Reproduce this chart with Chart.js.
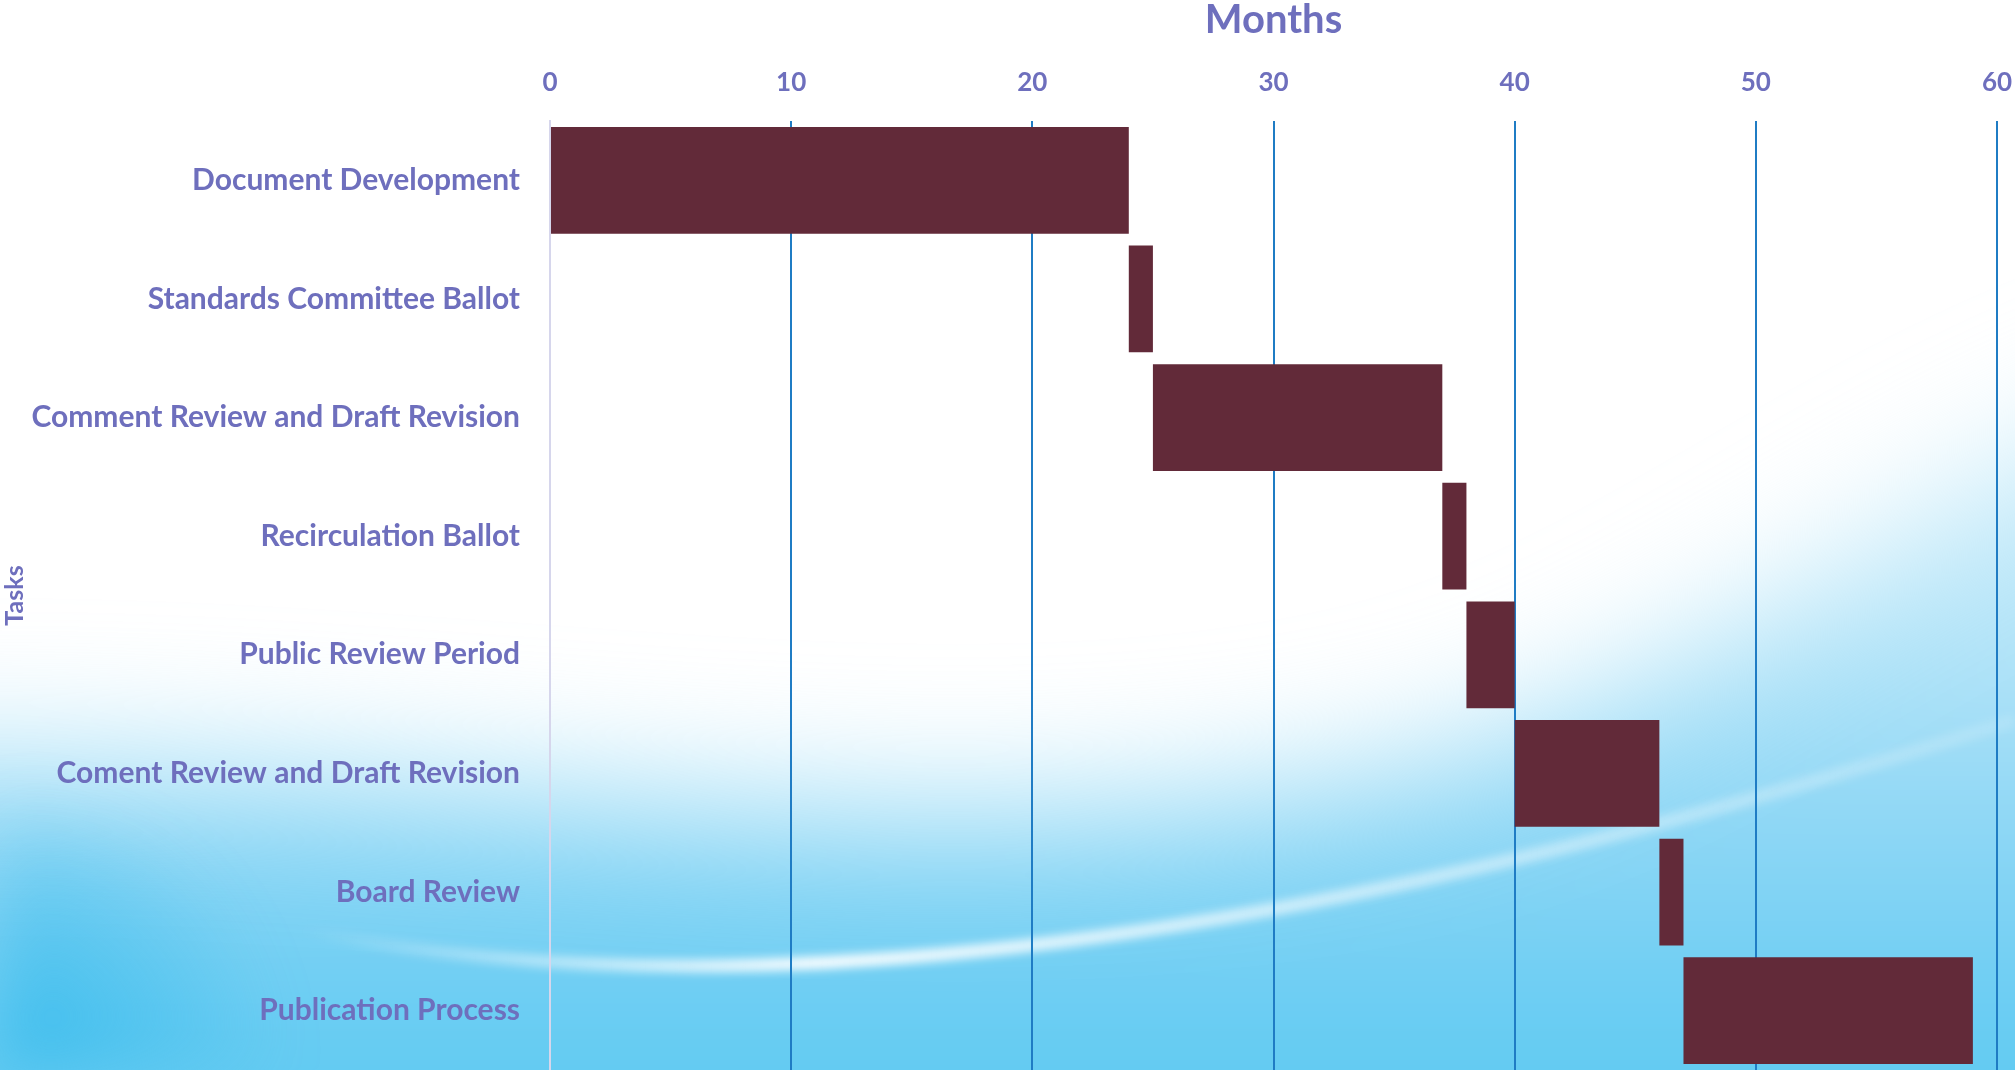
<!DOCTYPE html>
<html>
<head>
<meta charset="utf-8">
<script src="https://cdn.jsdelivr.net/npm/chart.js@4.4.1/dist/chart.umd.min.js"></script>
<style>
  html, body { margin: 0; padding: 0; background: #fff; }
  #wrap { width: 2015px; height: 1070px; position: relative; }
</style>
</head>
<body>
<div id="wrap"><canvas id="ganttChart"></canvas></div>
<script>
const tasks = [
    'Document Development',
    'Standards Committee Ballot',
    'Comment Review and Draft Revision',
    'Recirculation Ballot',
    'Public Review Period',
    'Coment Review and Draft Revision',
    'Board Review',
    'Publication Process'
];
const startMonths = [0, 24, 25, 37, 38, 40, 46, 47];
const endMonths = [24, 25, 37, 38, 40, 46, 47, 59];
const monthTicks = [0, 10, 20, 30, 40, 50, 60];

const textColor = '#6e6fbd';
const gridBlue = '#1f7cc4';
const lavender = '#d6d6ec';

// slide-style background: white top, sky blue bottom with a light swoosh
const backgroundPlugin = {
    id: 'slideBackground',
    beforeDraw(chart) {
        const ctx = chart.ctx;
        const w = chart.width, h = chart.height;
        ctx.save();
        ctx.fillStyle = '#ffffff';
        ctx.fillRect(0, 0, w, h);

        // blue lower region, soft upper edge
        ctx.filter = 'blur(70px)';
        const g = ctx.createLinearGradient(0, 600, 0, h);
        g.addColorStop(0, 'rgba(190,232,249,1)');
        g.addColorStop(0.5, 'rgba(140,214,245,1)');
        g.addColorStop(1, 'rgba(95,202,242,1)');
        ctx.fillStyle = g;
        ctx.beginPath();
        ctx.moveTo(-200, 770);
        ctx.bezierCurveTo(400, 740, 900, 880, 1400, 770);
        ctx.bezierCurveTo(1700, 700, 1900, 480, 2250, 380);
        ctx.lineTo(2250, h + 200);
        ctx.lineTo(-200, h + 200);
        ctx.closePath();
        ctx.fill();

        // deeper blue in the lower left corner
        ctx.filter = 'blur(30px)';
        const r = ctx.createRadialGradient(0, h, 10, 0, h, 280);
        r.addColorStop(0, 'rgba(50,185,235,0.8)');
        r.addColorStop(1, 'rgba(50,185,235,0)');
        ctx.fillStyle = r;
        ctx.fillRect(0, 0, w, h);

        // white swoosh
        ctx.filter = 'blur(5px)';
        const s = ctx.createLinearGradient(300, 0, 2015, 0);
        s.addColorStop(0, 'rgba(255,255,255,0)');
        s.addColorStop(0.3, 'rgba(255,255,255,0.95)');
        s.addColorStop(0.5, 'rgba(255,255,255,0.7)');
        s.addColorStop(1, 'rgba(255,255,255,0.15)');
        ctx.strokeStyle = s;
        ctx.lineWidth = 13;
        ctx.beginPath();
        ctx.moveTo(300, 930);
        ctx.quadraticCurveTo(950, 1060, 2015, 720);
        ctx.stroke();
        ctx.restore();
    }
};

new Chart(document.getElementById('ganttChart'), {
    type: 'bar',
    data: {
        labels: tasks,
        datasets: [{
            label: 'Duration',
            data: tasks.map((t, i) => [startMonths[i], endMonths[i]]),
            backgroundColor: '#622a39',
            borderWidth: 0,
            categoryPercentage: 0.9,
            barPercentage: 1.0
        }]
    },
    options: {
        indexAxis: 'y',
        responsive: true,
        maintainAspectRatio: false,
        animation: false,
        layout: {
            padding: { top: 0, right: 18, bottom: 0, left: 0 }
        },
        scales: {
            x: {
                position: 'top',
                min: 0,
                max: 60,
                afterBuildTicks: scale => {
                    scale.ticks = monthTicks.map(v => ({ value: v }));
                },
                afterFit: scale => {
                    scale.height = 121;
                    scale.paddingLeft = 0;
                    scale.paddingRight = 0;
                },
                grid: {
                    drawTicks: false,
                    lineWidth: 2,
                    color: ctx => ctx.tick && ctx.tick.value === 0 ? lavender : gridBlue
                },
                border: { display: false },
                ticks: {
                    padding: 23,
                    color: textColor,
                    font: { family: 'Lato', size: 26, weight: 'bold' }
                },
                title: {
                    display: true,
                    text: 'Months',
                    color: textColor,
                    padding: 0,
                    font: { family: 'Lato', size: 40, weight: 'bold', lineHeight: 1 }
                }
            },
            y: {
                afterFit: scale => {
                    scale.width = 550;
                    scale.paddingTop = 0;
                    scale.paddingBottom = 0;
                },
                grid: { display: false, drawTicks: false },
                border: { display: true, color: lavender, width: 2 },
                ticks: {
                    padding: 30,
                    color: textColor,
                    font: { family: 'Lato', size: 30, weight: 'bold' }
                },
                title: {
                    display: true,
                    text: 'Tasks',
                    color: textColor,
                    padding: 0,
                    font: { family: 'Lato', size: 25, weight: 'bold' }
                }
            }
        },
        plugins: {
            legend: { display: false },
            tooltip: { enabled: false }
        }
    },
    plugins: [backgroundPlugin]
});
</script>
</body>
</html>
